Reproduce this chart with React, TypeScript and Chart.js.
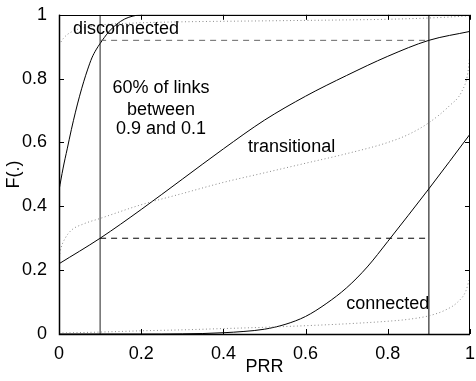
import { useEffect, useRef } from "react";
import { Chart, registerables } from "chart.js";

Chart.register(...registerables);

const W = 476;
const H = 381;

const tickValues = [0, 0.2, 0.4, 0.6, 0.8, 1];

// Cumulative fraction of links F(.) against packet reception ratio (PRR)
const disconnectedPRR = [0, 0.01, 0.02, 0.03, 0.04, 0.05, 0.06, 0.07, 0.08, 0.09, 0.1, 0.12, 0.14, 0.16, 0.18, 0.2, 1];
const disconnectedF = [0.45, 0.52, 0.58, 0.64, 0.695, 0.745, 0.79, 0.83, 0.865, 0.89, 0.91, 0.945, 0.97, 0.987, 0.996, 1, 1];

const transitionalPRR = [0, 0.1, 0.2, 0.3, 0.4, 0.5, 0.6, 0.7, 0.8, 0.9, 1];
const transitionalF = [0.22, 0.3, 0.39, 0.485, 0.58, 0.67, 0.745, 0.81, 0.87, 0.92, 0.948];

const connectedPRR = [0, 0.25, 0.3, 0.35, 0.4, 0.45, 0.5, 0.55, 0.6, 0.65, 0.7, 0.75, 0.8, 0.85, 0.9, 0.95, 1];
const connectedF = [0, 0, 0.0005, 0.0015, 0.004, 0.008, 0.015, 0.03, 0.055, 0.095, 0.145, 0.21, 0.29, 0.372, 0.455, 0.54, 0.626];

// Reference curves (dotted)
const disconnectedRefPRR = [0, 0.01, 0.02, 0.04, 0.07, 0.1, 0.2, 0.3, 0.5, 0.7, 0.8, 0.9, 0.95, 1];
const disconnectedRefF = [0.905, 0.925, 0.938, 0.952, 0.962, 0.968, 0.975, 0.978, 0.981, 0.984, 0.986, 0.99, 0.993, 0.997];

const transitionalRefPRR = [0, 0.005, 0.015, 0.03, 0.06, 0.1, 0.2, 0.3, 0.4, 0.5, 0.6, 0.7, 0.8, 0.85, 0.9, 0.95, 0.98, 0.995, 1];
const transitionalRefF = [0.24, 0.27, 0.3, 0.325, 0.345, 0.362, 0.405, 0.44, 0.475, 0.505, 0.535, 0.565, 0.6, 0.625, 0.662, 0.715, 0.76, 0.82, 0.88];

const connectedRefPRR = [0, 0.1, 0.2, 0.3, 0.4, 0.5, 0.6, 0.7, 0.8, 0.85, 0.9, 0.94, 0.97, 0.99, 1];
const connectedRefF = [0.003, 0.006, 0.01, 0.013, 0.017, 0.021, 0.026, 0.032, 0.04, 0.046, 0.057, 0.075, 0.1, 0.135, 0.18];

// Band of PRR thresholds and the matching F levels
const prrThresholds = [0.1, 0.9];
const fLevels = [0.3, 0.92];

const FONT = '"Liberation Sans", Arial, Helvetica, sans-serif';
const FONT_SIZE = 18;

const noteLines = [
  { text: "disconnected", x: 0.034, y: 0.954, align: "left" as CanvasTextAlign },
  { text: "60% of links", x: 0.248, y: 0.77, align: "center" as CanvasTextAlign },
  { text: "between", x: 0.248, y: 0.702, align: "center" as CanvasTextAlign },
  { text: "0.9 and 0.1", x: 0.248, y: 0.641, align: "center" as CanvasTextAlign },
  { text: "transitional", x: 0.566, y: 0.586, align: "center" as CanvasTextAlign },
  { text: "connected", x: 0.8, y: 0.095, align: "center" as CanvasTextAlign },
];

const zip = (xs: number[], ys: number[]) => xs.map((x, i) => ({ x, y: ys[i] }));

const solid = (xs: number[], ys: number[]) => ({
  data: zip(xs, ys),
  borderColor: "#000",
  borderWidth: 1,
  pointRadius: 0,
  cubicInterpolationMode: "monotone" as const,
});

const dotted = (xs: number[], ys: number[]) => ({
  data: zip(xs, ys),
  borderColor: "#8a8a8a",
  borderWidth: 1,
  borderDash: [1, 2.5],
  pointRadius: 0,
  cubicInterpolationMode: "monotone" as const,
});

const straight = (xs: number[], ys: number[], color: string, dash: number[] = []) => ({
  data: zip(xs, ys),
  borderColor: color,
  borderWidth: 1,
  borderDash: dash,
  pointRadius: 0,
  tension: 0,
});

// Box around the axes with inward tick marks, plus the curve labels
const framePlugin = {
  id: "frame",
  afterDraw(chart: Chart) {
    const { ctx, chartArea, scales } = chart;
    const { left, right, top, bottom } = chartArea;
    const xs = scales.x;
    const ys = scales.y;
    ctx.save();
    ctx.strokeStyle = "#000";
    ctx.lineWidth = 1;
    ctx.beginPath();
    ctx.rect(Math.round(left) + 0.5, Math.round(top) + 0.5, Math.round(right - left) - 1, Math.round(bottom - top));
    ctx.stroke();
    ctx.lineWidth = 1.5;
    ctx.beginPath();
    ctx.moveTo(left + 0.5, top);
    ctx.lineTo(left + 0.5, bottom + 0.5);
    ctx.lineTo(right, bottom + 0.5);
    ctx.stroke();
    ctx.lineWidth = 1;
    const len = 5;
    ctx.beginPath();
    for (const v of tickValues) {
      const px = Math.round(xs.getPixelForValue(v)) + 0.5;
      ctx.moveTo(px, bottom);
      ctx.lineTo(px, bottom - len);
      ctx.moveTo(px, top);
      ctx.lineTo(px, top + len);
      const py = Math.round(ys.getPixelForValue(v)) + 0.5;
      ctx.moveTo(left, py);
      ctx.lineTo(left + len, py);
      ctx.moveTo(right, py);
      ctx.lineTo(right - len, py);
    }
    ctx.stroke();

    ctx.fillStyle = "#000";
    ctx.font = `${FONT_SIZE}px ${FONT}`;
    ctx.textBaseline = "middle";
    for (const n of noteLines) {
      ctx.textAlign = n.align;
      ctx.fillText(n.text, xs.getPixelForValue(n.x), ys.getPixelForValue(n.y));
    }
    ctx.restore();
  },
};

export default function App() {
  const ref = useRef<HTMLCanvasElement | null>(null);

  useEffect(() => {
    if (!ref.current) return;
    const chart = new Chart(ref.current, {
      type: "line",
      data: {
        datasets: [
          dotted(disconnectedRefPRR, disconnectedRefF),
          dotted(transitionalRefPRR, transitionalRefF),
          dotted(connectedRefPRR, connectedRefF),
          straight([prrThresholds[0], prrThresholds[1]], [fLevels[1], fLevels[1]], "#666", [6, 5]),
          straight([prrThresholds[0], prrThresholds[1]], [fLevels[0], fLevels[0]], "#000", [6, 5]),
          straight([prrThresholds[0], prrThresholds[0]], [0, 1], "#222"),
          straight([prrThresholds[1], prrThresholds[1]], [0, 1], "#000"),
          solid(disconnectedPRR, disconnectedF),
          solid(transitionalPRR, transitionalF),
          solid(connectedPRR, connectedF),
        ],
      },
      options: {
        animation: false,
        responsive: false,
        devicePixelRatio: 1,
        layout: { padding: { left: 0, right: 2, top: 8, bottom: 0 } },
        plugins: { legend: { display: false }, tooltip: { enabled: false } },
        scales: {
          x: {
            type: "linear",
            min: 0,
            max: 1,
            grid: { display: false },
            border: { display: false },
            afterBuildTicks: (s: any) => {
              s.ticks = tickValues.map((value) => ({ value }));
            },
            afterFit: (s: any) => {
              s.height = 47;
            },
            ticks: {
              color: "#000",
              padding: 1,
              maxRotation: 0,
              font: { family: FONT, size: FONT_SIZE },
              callback: (v: any) => String(Number(Number(v).toFixed(1))),
            },
            title: {
              display: true,
              text: "PRR",
              color: "#000",
              padding: 3,
              font: { family: FONT, size: FONT_SIZE },
            },
          },
          y: {
            type: "linear",
            min: 0,
            max: 1,
            grid: { display: false },
            border: { display: false },
            afterBuildTicks: (s: any) => {
              s.ticks = tickValues.map((value) => ({ value }));
            },
            afterFit: (s: any) => {
              s.width = 59;
            },
            ticks: {
              color: "#000",
              padding: 4,
              font: { family: FONT, size: FONT_SIZE },
              callback: (v: any) => String(Number(Number(v).toFixed(1))),
            },
            title: {
              display: true,
              text: "F(.)",
              color: "#000",
              padding: 3,
              font: { family: FONT, size: FONT_SIZE },
            },
          },
        },
      },
      plugins: [framePlugin],
    });
    return () => chart.destroy();
  }, []);

  return (
    <div style={{ position: "absolute", left: 0, top: 0, width: W, height: H, background: "#fff" }}>
      <canvas ref={ref} width={W} height={H} style={{ width: W, height: H, display: "block" }} />
    </div>
  );
}
